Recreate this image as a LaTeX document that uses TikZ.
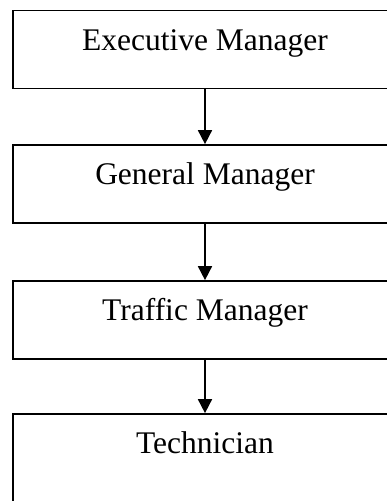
\documentclass[tikz,border=0pt]{standalone}
\usepackage{fontspec}
\setmainfont{Liberation Serif}
\usetikzlibrary{arrows.meta}

\begin{document}
\begin{tikzpicture}[x=1pt,y=-1pt,>={Triangle[width=14pt,length=14pt]},line width=1.7pt,
  post/.style={draw,rectangle,inner sep=0pt,minimum width=384pt,
    text height=39.5pt,text depth=38.5pt,font=\fontsize{31.5}{36}\selectfont}]
\path[use as bounding box,clip] (0,0) rectangle (387,501);
\node[post] (exec) at (205,49.5) {Executive Manager};
\node[post] (general) at (205,184) {General Manager};
\node[post] (traffic) at (205,320) {Traffic Manager};
\node[post,text depth=80pt] (tech) at (205,473.75) {Technician};
\draw[->] (exec) -- (general);
\draw[->] (general) -- (traffic);
\draw[->] (traffic) -- (tech);
\end{tikzpicture}
\end{document}
